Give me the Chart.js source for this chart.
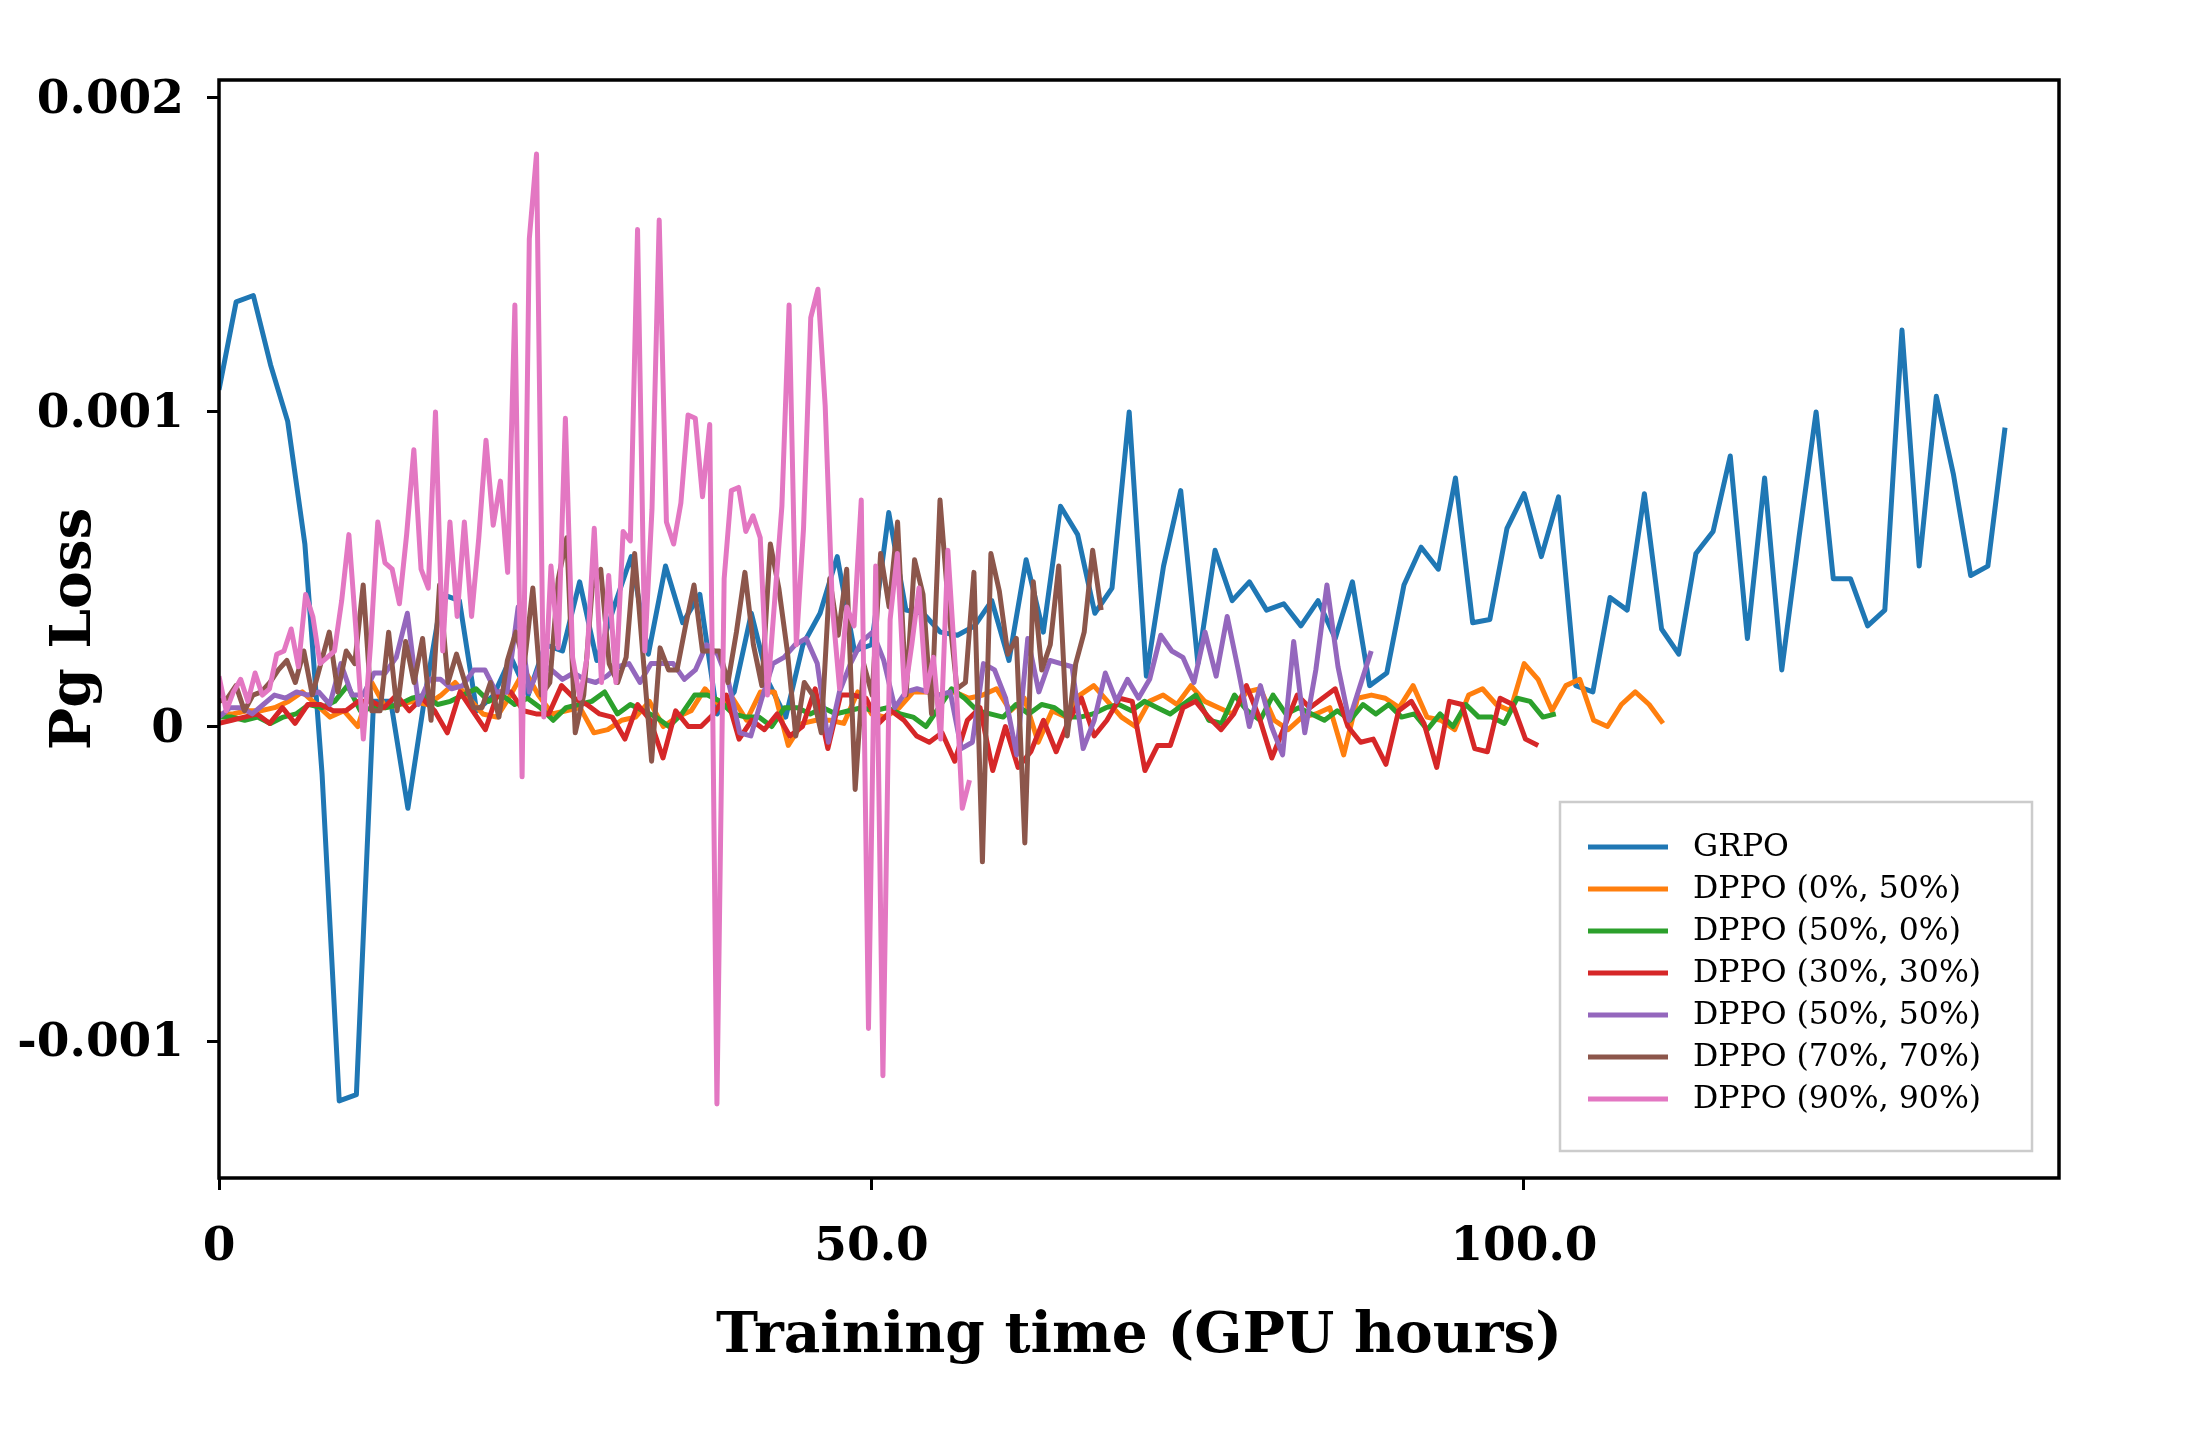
<!DOCTYPE html>
<html>
<head>
<meta charset="utf-8">
<title>Pg Loss vs training time</title>
<script src="https://cdn.jsdelivr.net/npm/chart.js@4.4.9/dist/chart.umd.min.js"></script>
<style>
  html, body { margin: 0; padding: 0; background: #fff; }
  canvas { display: block; }
</style>
</head>
<body>
<canvas id="pg-loss-chart" width="2200" height="1440"></canvas>
<script>
// Pg loss per logged training step, in units of 1e-3 (105 steps per run)
const grpo = [1.07, 1.35, 1.37, 1.15, 0.97, 0.58, -0.15, -1.19, -1.17, 0.08,
    0.08, -0.26, 0.10, 0.42, 0.40, 0.05, 0.10, 0.22, 0.10, 0.26,
    0.24, 0.46, 0.21, 0.38, 0.54, 0.23, 0.51, 0.33, 0.42, 0.04,
    0.11, 0.36, 0.14, 0.03, 0.26, 0.36, 0.54, 0.24, 0.26, 0.68,
    0.37, 0.36, 0.30, 0.29, 0.32, 0.40, 0.21, 0.53, 0.30, 0.70,
    0.61, 0.36, 0.44, 1.00, 0.16, 0.51, 0.75, 0.20, 0.56, 0.40,
    0.46, 0.37, 0.39, 0.32, 0.40, 0.28, 0.46, 0.13, 0.17, 0.45,
    0.57, 0.50, 0.79, 0.33, 0.34, 0.63, 0.74, 0.54, 0.73, 0.13,
    0.11, 0.41, 0.37, 0.74, 0.31, 0.23, 0.55, 0.62, 0.86, 0.28,
    0.79, 0.18, 0.60, 1.00, 0.47, 0.47, 0.32, 0.37, 1.26, 0.51,
    1.05, 0.80, 0.48, 0.51, 0.95];

const dppo0_50 = [0.04, 0.04, 0.05, 0.05, 0.06, 0.08, 0.11, 0.07, 0.03, 0.05,
    0.00, 0.14, 0.06, 0.07, 0.08, 0.07, 0.10, 0.14, 0.09, 0.04,
    0.03, 0.10, 0.18, 0.10, 0.04, 0.05, 0.06, -0.02, -0.01, 0.02,
    0.03, 0.08, 0.00, 0.03, 0.05, 0.12, 0.07, 0.09, 0.02, 0.11,
    0.11, -0.06, 0.01, 0.02, 0.02, 0.01, 0.11, 0.04, 0.03, 0.06,
    0.11, 0.11, 0.10, 0.11, 0.09, 0.10, 0.12, 0.05, 0.09, -0.05,
    0.05, 0.03, 0.10, 0.13, 0.08, 0.03, 0.00, 0.08, 0.10, 0.07,
    0.13, 0.08, 0.06, 0.04, 0.11, 0.12, 0.02, -0.01, 0.03, 0.04,
    0.06, -0.09, 0.09, 0.10, 0.09, 0.06, 0.13, 0.03, 0.02, -0.01,
    0.10, 0.12, 0.07, 0.05, 0.20, 0.15, 0.05, 0.13, 0.15, 0.02,
    0.00, 0.07, 0.11, 0.07, 0.01];

const dppo50_0 = [0.03, 0.03, 0.02, 0.03, 0.01, 0.03, 0.04, 0.07, 0.06, 0.08,
    0.13, 0.05, 0.06, 0.06, 0.07, 0.09, 0.10, 0.07, 0.08, 0.10,
    0.12, 0.08, 0.10, 0.07, 0.09, 0.06, 0.02, 0.06, 0.07, 0.08,
    0.11, 0.04, 0.07, 0.05, 0.03, 0.00, 0.04, 0.10, 0.10, 0.08,
    0.04, 0.03, 0.03, 0.00, 0.06, 0.06, 0.04, 0.06, 0.04, 0.05,
    0.06, 0.05, 0.06, 0.04, 0.03, 0.00, 0.06, 0.12, 0.09, 0.05,
    0.04, 0.03, 0.07, 0.04, 0.07, 0.06, 0.03, 0.03, 0.04, 0.06,
    0.07, 0.05, 0.08, 0.06, 0.04, 0.07, 0.10, 0.02, 0.01, 0.10,
    0.05, 0.02, 0.10, 0.04, 0.06, 0.04, 0.02, 0.05, 0.02, 0.07,
    0.04, 0.07, 0.03, 0.04, -0.01, 0.04, 0.00, 0.07, 0.03, 0.03,
    0.01, 0.09, 0.08, 0.03, 0.04];

const dppo30_30 = [0.01, 0.02, 0.03, 0.04, 0.01, 0.06, 0.01, 0.07, 0.07, 0.05,
    0.05, 0.08, 0.08, 0.06, 0.10, 0.05, 0.09, 0.05, -0.02, 0.11,
    0.05, -0.01, 0.11, 0.11, 0.05, 0.04, 0.04, 0.13, 0.09, 0.07,
    0.04, 0.03, -0.04, 0.07, 0.02, -0.10, 0.05, 0.00, 0.00, 0.04,
    0.10, -0.04, 0.02, -0.01, 0.04, -0.03, 0.00, 0.12, -0.07, 0.10,
    0.10, 0.09, 0.01, 0.05, 0.02, -0.03, -0.05, -0.02, -0.11, 0.02,
    0.06, -0.14, 0.00, -0.13, -0.08, 0.02, -0.08, 0.02, 0.09, -0.03,
    0.02, 0.09, 0.08, -0.14, -0.06, -0.06, 0.06, 0.08, 0.03, -0.01,
    0.04, 0.13, 0.03, -0.10, 0.00, 0.10, 0.06, 0.09, 0.12, 0.00,
    -0.05, -0.04, -0.12, 0.05, 0.08, 0.01, -0.13, 0.08, 0.07, -0.07,
    -0.08, 0.09, 0.07, -0.04, -0.06];

const dppo50_50 = [0.03, 0.06, 0.06, 0.04, 0.07, 0.10, 0.09, 0.11, 0.10, 0.11,
    0.07, 0.20, 0.10, 0.10, 0.17, 0.17, 0.22, 0.36, 0.07, 0.15,
    0.15, 0.12, 0.13, 0.18, 0.18, 0.11, 0.11, 0.38, 0.11, 0.20,
    0.18, 0.15, 0.17, 0.15, 0.14, 0.16, 0.19, 0.20, 0.14, 0.20,
    0.20, 0.20, 0.15, 0.18, 0.26, 0.23, 0.14, -0.02, -0.03, 0.09,
    0.20, 0.22, 0.26, 0.28, 0.20, -0.05, 0.11, 0.20, 0.27, 0.30,
    0.21, 0.06, 0.11, 0.12, 0.11, 0.10, 0.11, -0.07, -0.05, 0.20,
    0.18, 0.09, -0.09, 0.28, 0.11, 0.21, 0.20, 0.19, -0.07, 0.02,
    0.17, 0.08, 0.15, 0.09, 0.15, 0.29, 0.24, 0.22, 0.14, 0.30,
    0.16, 0.35, 0.18, 0.00, 0.13, 0.00, -0.09, 0.27, -0.02, 0.18,
    0.45, 0.19, 0.02, 0.13, 0.24];

const dppo70_70 = [0.08, 0.09, 0.13, 0.05, 0.10, 0.11, 0.14, 0.18, 0.21, 0.14,
    0.24, 0.10, 0.20, 0.30, 0.11, 0.24, 0.20, 0.45, 0.05, 0.05,
    0.30, 0.05, 0.27, 0.14, 0.28, 0.02, 0.45, 0.14, 0.23, 0.14,
    0.06, 0.06, 0.14, 0.03, 0.21, 0.30, 0.20, 0.44, 0.10, 0.14,
    0.47, 0.60, -0.02, 0.10, 0.44, 0.50, 0.20, 0.14, 0.22, 0.55,
    0.22, -0.11, 0.25, 0.18, 0.18, 0.32, 0.45, 0.24, 0.24, 0.24,
    0.14, 0.30, 0.49, 0.26, 0.13, 0.58, 0.44, 0.24, -0.03, 0.14,
    0.10, -0.02, 0.47, 0.29, 0.50, -0.20, 0.20, 0.10, 0.55, 0.38,
    0.65, 0.10, 0.53, 0.42, 0.04, 0.72, 0.38, 0.12, 0.14, 0.49,
    -0.43, 0.55, 0.43, 0.23, 0.28, -0.37, 0.46, 0.18, 0.26, 0.51,
    -0.03, 0.20, 0.30, 0.56, 0.37];

const dppo90_90 = [0.16, 0.05, 0.11, 0.15, 0.08, 0.17, 0.10, 0.12, 0.23, 0.24,
    0.31, 0.19, 0.42, 0.35, 0.20, 0.22, 0.24, 0.40, 0.61, 0.30,
    -0.04, 0.26, 0.65, 0.52, 0.50, 0.39, 0.61, 0.88, 0.50, 0.44,
    1.00, 0.24, 0.65, 0.35, 0.65, 0.35, 0.60, 0.91, 0.64, 0.78,
    0.49, 1.34, -0.16, 1.55, 1.82, 0.03, 0.51, 0.25, 0.98, 0.22,
    0.09, 0.22, 0.63, 0.14, 0.48, 0.14, 0.62, 0.59, 1.58, 0.24,
    0.69, 1.61, 0.65, 0.58, 0.71, 0.99, 0.98, 0.73, 0.96, -1.20,
    0.47, 0.75, 0.76, 0.62, 0.67, 0.60, 0.10, 0.40, 0.70, 1.34,
    0.26, 0.63, 1.30, 1.39, 1.02, 0.38, 0.12, 0.38, 0.32, 0.72,
    -0.96, 0.51, -1.11, 0.34, 0.55, 0.10, 0.26, 0.44, 0.11, 0.22,
    -0.04, 0.56, 0.20, -0.26, -0.17];

const seriesLabels = ['GRPO', 'DPPO (0%, 50%)', 'DPPO (50%, 0%)', 'DPPO (30%, 30%)',
    'DPPO (50%, 50%)', 'DPPO (70%, 70%)', 'DPPO (90%, 90%)'];
const seriesValues = [grpo, dppo0_50, dppo50_0, dppo30_30, dppo50_50, dppo70_70, dppo90_90];
// GPU hours between two logged steps, per run
const hoursPerStep = [1.316, 1.064, 0.985, 0.972, 0.849, 0.65, 0.553];
const seriesColors = ['#1f77b4', '#ff7f0e', '#2ca02c', '#d62728', '#9467bd', '#8c564b', '#e377c2'];

const xTickValues = [0, 50, 100];
const yTickValues = [-1, 0, 1, 2];   // x 1e-3

const tickFont = { family: '"DejaVu Serif"', size: 47, weight: 'bold' };
const titleFont = { family: '"DejaVu Serif"', size: 56.5, weight: 'bold' };

// box around the plot + legend in the lower right corner
const frameAndLegend = {
    id: 'frameAndLegend',
    afterDatasetsDraw(chart) {
        const { ctx, chartArea: a } = chart;
        ctx.save();
        ctx.strokeStyle = '#000';
        ctx.lineWidth = 3.5;
        ctx.strokeRect(a.left, a.top, a.right - a.left, a.bottom - a.top);
        ctx.restore();
    },
    afterDraw(chart) {
        const { ctx, chartArea: a } = chart;
        const w = 472, h = 349;
        const x0 = a.right - 27 - w;
        const y0 = a.bottom - 27 - h;
        ctx.save();
        ctx.fillStyle = 'rgba(255,255,255,0.8)';
        ctx.fillRect(x0, y0, w, h);
        ctx.strokeStyle = '#cccccc';
        ctx.lineWidth = 2.5;
        ctx.strokeRect(x0, y0, w, h);
        ctx.font = '31.5px "DejaVu Serif"';
        ctx.textBaseline = 'middle';
        chart.data.datasets.forEach((ds, i) => {
            const y = y0 + 45 + i * 42;
            ctx.strokeStyle = ds.borderColor;
            ctx.lineWidth = 5;
            ctx.beginPath();
            ctx.moveTo(x0 + 28, y);
            ctx.lineTo(x0 + 108, y);
            ctx.stroke();
            ctx.fillStyle = '#000';
            ctx.fillText(ds.label, x0 + 133, y + 1);
        });
        ctx.restore();
    }
};

const datasets = seriesValues.map((vals, k) => ({
    label: seriesLabels[k],
    data: vals.map((v, i) => ({ x: i * hoursPerStep[k], y: v })),
    borderColor: seriesColors[k],
    backgroundColor: seriesColors[k],
    borderWidth: 5,
    borderJoinStyle: 'round',
    pointRadius: 0,
    tension: 0,
    fill: false,
    order: seriesValues.length - 1 - k
}));

const tickGrid = { drawOnChartArea: false, drawTicks: true, tickLength: 12, tickWidth: 3, tickColor: '#000', color: '#000' };

new Chart(document.getElementById('pg-loss-chart').getContext('2d'), {
    type: 'line',
    data: { datasets },
    options: {
        responsive: false,
        animation: false,
        devicePixelRatio: 1,
        layout: { padding: { top: 80, right: 141, left: 0, bottom: 0 } },
        plugins: { legend: { display: false }, tooltip: { enabled: false } },
        scales: {
            x: {
                type: 'linear',
                min: 0,
                max: 141,
                afterBuildTicks: scale => { scale.ticks = xTickValues.map(v => ({ value: v })); },
                afterFit: scale => { scale.height = 262; },
                grid: tickGrid,
                border: { display: false },
                ticks: {
                    font: tickFont, color: '#000', padding: 30, maxRotation: 0, autoSkip: false,
                    callback: v => v === 0 ? '0' : v.toFixed(1)
                },
                title: {
                    display: true, text: 'Training time (GPU hours)', font: titleFont, color: '#000',
                    padding: { top: 0, bottom: 69 }
                }
            },
            y: {
                min: -1.435,
                max: 2.055,
                afterBuildTicks: scale => { scale.ticks = yTickValues.map(v => ({ value: v })); },
                afterFit: scale => { scale.width = 219; },
                grid: tickGrid,
                border: { display: false },
                ticks: {
                    font: tickFont, color: '#000', padding: 23, labelOffset: 3, autoSkip: false,
                    callback: v => v === 0 ? '0' : (v / 1000).toFixed(3)
                },
                title: {
                    display: true, text: 'Pg Loss', font: titleFont, color: '#000',
                    padding: { top: 41, bottom: 0 }
                }
            }
        }
    },
    plugins: [frameAndLegend]
});
</script>
</body>
</html>
